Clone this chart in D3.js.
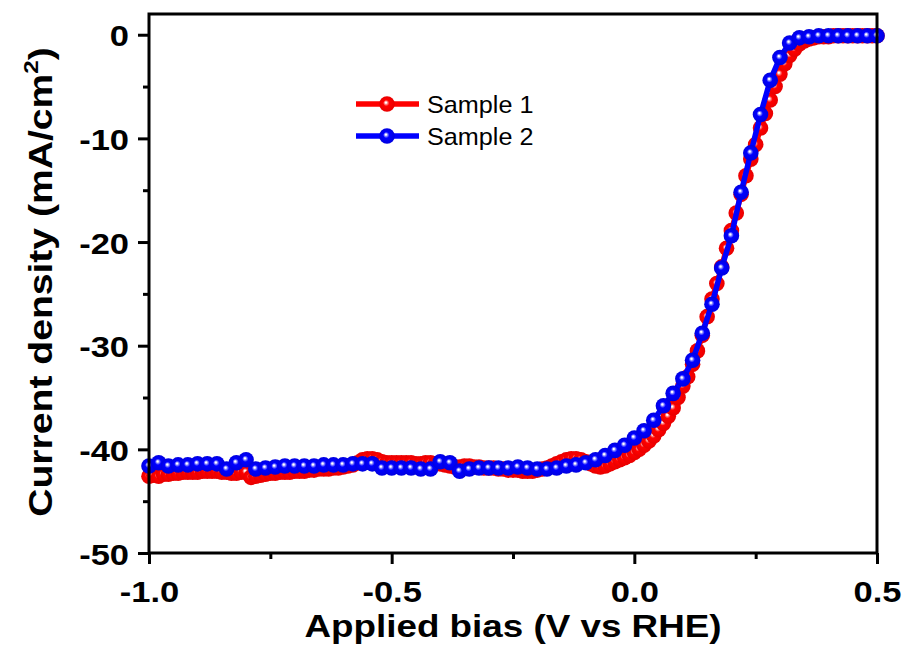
<!DOCTYPE html>
<html><head><meta charset="utf-8">
<script src="https://cdn.jsdelivr.net/npm/d3@7"></script>
<style>html,body{margin:0;padding:0;background:#fff;}svg{display:block;}</style>
</head><body>
<svg id="chart" width="911" height="652"></svg>
<script>
// ---- data ----
const sample1V = [-1.00,-0.99,-0.98,-0.97,-0.96,-0.95,-0.94,-0.93,-0.92,-0.91,-0.90,
-0.89,-0.88,-0.87,-0.86,-0.85,-0.84,-0.83,-0.82,-0.81,-0.80,
-0.79,-0.78,-0.77,-0.76,-0.75,-0.74,-0.73,-0.72,-0.71,-0.70,
-0.69,-0.68,-0.67,-0.66,-0.65,-0.64,-0.63,-0.62,-0.61,-0.60,
-0.59,-0.58,-0.57,-0.56,-0.55,-0.54,-0.53,-0.52,-0.51,-0.50,
-0.49,-0.48,-0.47,-0.46,-0.45,-0.44,-0.43,-0.42,-0.41,-0.40,
-0.39,-0.38,-0.37,-0.36,-0.35,-0.34,-0.33,-0.32,-0.31,-0.30,
-0.29,-0.28,-0.27,-0.26,-0.25,-0.24,-0.23,-0.22,-0.21,-0.20,
-0.19,-0.18,-0.17,-0.16,-0.15,-0.14,-0.13,-0.12,-0.11,-0.10,
-0.09,-0.08,-0.07,-0.06,-0.05,-0.04,-0.03,-0.02,-0.01,0.00,
0.01,0.02,0.03,0.04,0.05,0.06,0.07,0.08,0.09,0.10,
0.11,0.12,0.13,0.14,0.15,0.16,0.17,0.18,0.19,0.20,
0.21,0.22,0.23,0.24,0.25,0.26,0.27,0.28,0.29,0.30,
0.31,0.32,0.33,0.34,0.35,0.36,0.37,0.38,0.39,0.40,
0.41,0.42,0.43,0.44,0.45,0.46,0.47,0.48,0.49,0.50];
const sample1J = [-42.6,-42.5,-42.6,-42.4,-42.4,-42.3,-42.3,-42.2,-42.2,-42.2,-42.2,
-42.1,-42.1,-42.1,-42.1,-42.2,-42.2,-42.3,-42.3,-42.2,-42.2,
-42.7,-42.6,-42.5,-42.4,-42.3,-42.3,-42.2,-42.2,-42.2,-42.1,
-42.1,-42.1,-42.0,-42.0,-41.9,-41.9,-41.9,-41.8,-41.8,-41.7,
-41.6,-41.5,-41.3,-41.0,-40.9,-40.9,-41.0,-41.2,-41.3,-41.3,
-41.3,-41.3,-41.3,-41.3,-41.4,-41.4,-41.3,-41.3,-41.4,-41.4,
-41.5,-41.6,-41.7,-41.7,-41.6,-41.6,-41.7,-41.7,-41.8,-41.8,
-41.8,-41.9,-41.9,-42.0,-42.0,-42.0,-42.1,-42.1,-42.1,-42.0,
-41.9,-41.8,-41.6,-41.4,-41.2,-41.0,-40.9,-40.9,-41.0,-41.2,
-41.4,-41.6,-41.7,-41.6,-41.4,-41.2,-41.0,-40.8,-40.6,-40.3,
-40.0,-39.6,-39.2,-38.7,-38.1,-37.5,-36.8,-36.0,-35.0,-33.9,
-33.0,-31.8,-30.5,-29.0,-27.2,-25.5,-24.0,-22.4,-20.6,-18.9,
-17.2,-15.4,-13.6,-12.0,-10.6,-9.0,-7.6,-6.3,-5.0,-3.8,
-2.8,-2.0,-1.4,-0.9,-0.6,-0.4,-0.3,-0.2,-0.2,-0.2,
-0.1,-0.1,-0.1,-0.1,-0.1,-0.1,-0.1,-0.1,-0.1,-0.1];
const sample2V = [-1.00,-0.98,-0.96,-0.94,-0.92,-0.90,-0.88,-0.86,-0.84,-0.82,
-0.80,-0.78,-0.76,-0.74,-0.72,-0.70,-0.68,-0.66,-0.64,-0.62,
-0.60,-0.58,-0.56,-0.54,-0.52,-0.50,-0.48,-0.46,-0.44,-0.42,
-0.40,-0.38,-0.36,-0.34,-0.32,-0.30,-0.28,-0.26,-0.24,-0.22,
-0.20,-0.18,-0.16,-0.14,-0.12,-0.10,-0.08,-0.06,-0.04,-0.02,
0.00,0.02,0.04,0.06,0.08,0.10,0.12,0.14,0.16,0.18,
0.20,0.22,0.24,0.26,0.28,0.30,0.32,0.34,0.36,0.38,
0.40,0.42,0.44,0.46,0.48,0.50];
const sample2J = [-41.6,-41.3,-41.6,-41.5,-41.5,-41.4,-41.4,-41.4,-41.9,-41.3,
-41.0,-41.9,-41.8,-41.7,-41.6,-41.6,-41.6,-41.6,-41.5,-41.5,
-41.5,-41.4,-41.4,-41.4,-41.8,-41.8,-41.8,-41.8,-41.9,-41.9,
-41.2,-41.3,-42.1,-41.9,-41.8,-41.8,-41.8,-41.8,-41.7,-41.8,
-41.9,-41.9,-41.8,-41.6,-41.5,-41.3,-41.0,-40.6,-40.1,-39.6,
-38.9,-38.2,-37.2,-35.8,-34.6,-33.2,-31.4,-28.8,-26.0,-22.5,
-19.4,-15.2,-11.4,-7.7,-4.4,-2.2,-0.8,-0.3,-0.2,-0.1,
-0.1,-0.1,-0.1,-0.1,-0.1,-0.1];
const seriesNames = ["Sample 1", "Sample 2"];
const seriesColors = ["#ff0000", "#0000ff"];
const xTicks = [-1.0, -0.5, 0.0, 0.5];
const xMinorTicks = [-0.75, -0.25, 0.25];
const yTicks = [0, -10, -20, -30, -40, -50];
const yMinorTicks = [-5, -15, -25, -35, -45];

// ---- layout ----
const svg = d3.select("#chart");
const L = 149, R = 877, T = 14, B = 553;
const x = d3.scaleLinear().domain([-1, 0.5]).range([L, R]);
const y = d3.scaleLinear().domain([-50, 2]).range([B, T]);
const SX = 1.15; // horizontal stretch of the original text
const FONT = "Arial, 'Liberation Sans', sans-serif";
const MR = 7.8;

// gradients for spherical markers
const defs = svg.append("defs");
const shades = [["#ff0000", "#ff8080", "#e80000"], ["#0000ff", "#8080ff", "#0000e0"]];
shades.forEach((s, i) => {
  const g = defs.append("radialGradient").attr("id", "ball" + i)
    .attr("cx", "0.5").attr("cy", "0.5").attr("r", "0.5")
    .attr("fx", "0.42").attr("fy", "0.4");
  g.append("stop").attr("offset", "0").attr("stop-color", "#ffffff");
  g.append("stop").attr("offset", "0.08").attr("stop-color", "#ffffff");
  g.append("stop").attr("offset", "0.22").attr("stop-color", s[1]);
  g.append("stop").attr("offset", "0.4").attr("stop-color", s[0]);
  g.append("stop").attr("offset", "1").attr("stop-color", s[2]);
});

const series = [
  sample1V.map((v, i) => ({v, j: sample1J[i]})),
  sample2V.map((v, i) => ({v, j: sample2J[i]}))
];
const line = d3.line().x(d => x(d.v)).y(d => y(d.j));
series.forEach((data, i) => {
  const g = svg.append("g");
  g.append("path").datum(data).attr("d", line)
    .attr("fill", "none").attr("stroke", seriesColors[i]).attr("stroke-width", 5.5)
    .attr("stroke-linejoin", "round");
  g.selectAll("circle").data(data).join("circle")
    .attr("cx", d => x(d.v)).attr("cy", d => y(d.j)).attr("r", MR)
    .attr("fill", `url(#ball${i})`);
});

// frame
svg.append("rect").attr("x", L).attr("y", T).attr("width", R - L).attr("height", B - T)
  .attr("fill", "none").attr("stroke", "#000").attr("stroke-width", 3);

// axes
const xAxis = svg.append("g").attr("transform", `translate(0,${B})`)
  .call(d3.axisBottom(x).tickValues(xTicks).tickSize(11).tickFormat(d3.format(".1f")));
const xMinor = svg.append("g").attr("transform", `translate(0,${B})`)
  .call(d3.axisBottom(x).tickValues(xMinorTicks).tickSize(6).tickFormat(""));
const yAxis = svg.append("g").attr("transform", `translate(${L},0)`)
  .call(d3.axisLeft(y).tickValues(yTicks).tickSize(11).tickFormat(d3.format("d")));
const yMinor = svg.append("g").attr("transform", `translate(${L},0)`)
  .call(d3.axisLeft(y).tickValues(yMinorTicks).tickSize(6).tickFormat(""));
[xAxis, xMinor, yAxis, yMinor].forEach(a => {
  a.select(".domain").remove();
  a.selectAll(".tick line").attr("stroke", "#000").attr("stroke-width", 3);
});
xAxis.selectAll(".tick text")
  .attr("y", 0).attr("dy", 0)
  .attr("transform", `translate(0,49) scale(${SX},1)`)
  .style("font-family", FONT)
  .style("font-weight", "bold").style("font-size", "30px").attr("fill", "#000")
  .text(d => d3.format(".1f")(d).replace("−", "-"));
yAxis.selectAll(".tick text")
  .attr("x", 0).attr("dy", 0).attr("y", 0)
  .attr("text-anchor", "end")
  .attr("transform", `translate(-20,11) scale(${SX},1)`)
  .style("font-family", FONT)
  .style("font-weight", "bold").style("font-size", "30px").attr("fill", "#000")
  .text(d => String(d).replace("−", "-"));

// axis titles
svg.append("text")
  .attr("transform", `translate(${(L + R) / 2},637) scale(${SX},1)`)
  .attr("text-anchor", "middle")
  .style("font-family", FONT)
  .style("font-weight", "bold").style("font-size", "32px")
  .text("Applied bias (V vs RHE)");
const yt = svg.append("text")
  .attr("transform", `translate(52,282) rotate(-90) scale(1.15,1)`)
  .attr("text-anchor", "middle")
  .style("font-family", FONT)
  .style("font-weight", "bold").style("font-size", "34px");
yt.append("tspan").text("Current density (mA/cm");
yt.append("tspan").attr("dy", -14).style("font-size", "21px").text("2");
yt.append("tspan").attr("dy", 14).text(")");

// legend
const legY = [104, 136];
seriesNames.forEach((name, i) => {
  const g = svg.append("g");
  g.append("line").attr("x1", 356).attr("x2", 419).attr("y1", legY[i]).attr("y2", legY[i])
    .attr("stroke", seriesColors[i]).attr("stroke-width", 5.5);
  g.append("circle").attr("cx", 387).attr("cy", legY[i]).attr("r", MR)
    .attr("fill", `url(#ball${i})`);
  g.append("text").attr("transform", `translate(427,${legY[i] + 9}) scale(1.05,1)`)
    .style("font-family", FONT)
    .style("font-size", "24px").text(name);
});
</script>
</body></html>
